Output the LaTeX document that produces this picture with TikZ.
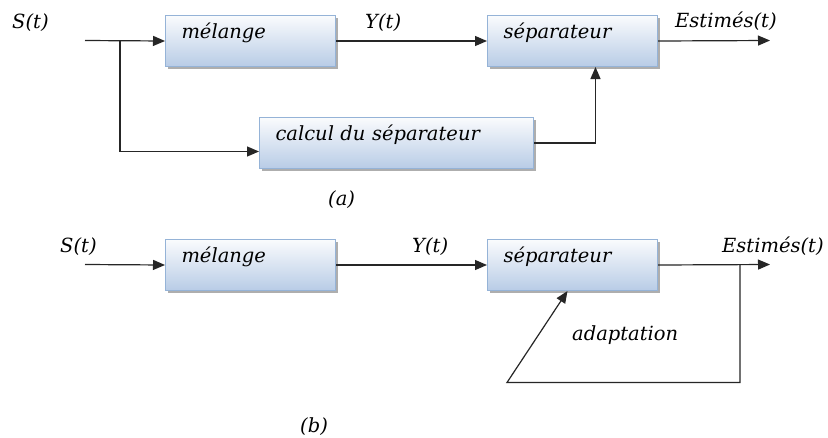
\documentclass[tikz,border=0pt]{standalone}
\usepackage{fontspec}
\setmainfont{DejaVu Serif}
\usetikzlibrary{arrows.meta,shadows}
\definecolor{boxtop}{RGB}{250,251,253}
\definecolor{boxbot}{RGB}{184,204,230}
\definecolor{boxline}{RGB}{149,179,215}
\newcommand\lblfont{\fontsize{19.5}{22}\selectfont\itshape}
\tikzset{
  blk/.style={draw=boxline, line width=1pt, top color=boxtop, bottom color=boxbot,
    inner sep=0pt, text height=23pt, text depth=28pt, align=left, font=\lblfont,
    anchor=north west,
    drop shadow={shadow xshift=2pt, shadow yshift=-2.5pt, fill=black!45, opacity=0.7}},
  conn/.style={line width=1.2pt, black!85},
  arr/.style={conn, -{Triangle[length=12pt,width=10pt]}},
  lab/.style={anchor=base west, inner sep=0pt, font=\lblfont},
}
\begin{document}
\begin{tikzpicture}[x=1pt,y=1pt]
\useasboundingbox (0,0) rectangle (828,-437);
\fill[white] (0,0) rectangle (828,-437);
% (a)
\node[blk, text width=138pt, minimum width=170pt] (m1) at (165,-15) {mélange};
\node[blk, text width=138pt, minimum width=170pt] (s1) at (487,-15) {séparateur};
\node[blk, text width=242pt, minimum width=274pt] (c1) at (259,-117) {calcul du séparateur};
\node[lab] (st1) at (12,-28) {S(t)};
\node[lab] (yt1) at (365,-28) {Y(t)};
\node[lab] (es1) at (675,-27) {Estimés(t)};
\node[lab] (ca) at (328,-205) {(a)};
\coordinate (in1) at (85,-40.5);
\coordinate (br1) at (120,-40.5);
\coordinate (out1) at (770,-40.5);
\draw[arr] (in1) -- (m1.west);
\draw[arr] (br1) |- ([yshift=-8.5pt]c1.west);
\draw[arr] (m1.east) -- (s1.west);
\draw[arr] (s1.east) -- (out1);
\draw[arr] (c1.east) -| ([xshift=23pt]s1.south);
% (b)
\node[blk, text width=138pt, minimum width=170pt] (m2) at (165,-239) {mélange};
\node[blk, text width=138pt, minimum width=170pt] (s2) at (487,-239) {séparateur};
\node[lab] (st2) at (60,-252) {S(t)};
\node[lab] (yt2) at (412,-252) {Y(t)};
\node[lab] (es2) at (722,-252) {Estimés(t)};
\node[lab] (ad) at (572,-340) {adaptation};
\node[lab] (cb) at (300,-432) {(b)};
\coordinate (in2) at (85,-264.5);
\coordinate (out2) at (770,-264.5);
\coordinate (fb1) at (740,-264.5);
\coordinate (fb2) at (740,-382.5);
\coordinate (fb3) at (507,-382.5);
\draw[arr] (in2) -- (m2.west);
\draw[arr] (m2.east) -- (s2.west);
\draw[arr] (s2.east) -- (out2);
\draw[arr] (fb1) -- (fb2) -- (fb3) -- ([xshift=-5pt]s2.south);
\end{tikzpicture}
\end{document}
